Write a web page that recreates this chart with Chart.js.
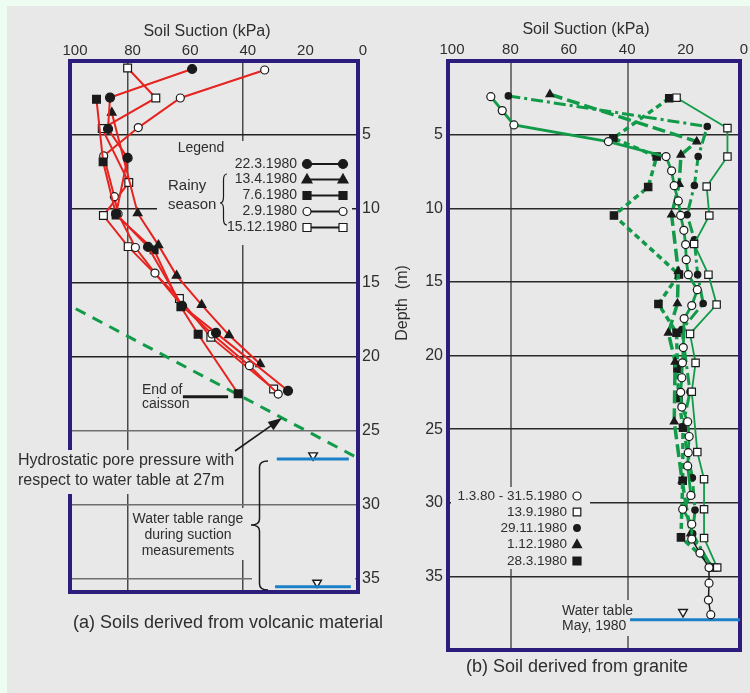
<!DOCTYPE html>
<html><head><meta charset="utf-8">
<script src="https://cdn.jsdelivr.net/npm/chart.js@4.4.1/dist/chart.umd.min.js"></script>
<style>
html,body{margin:0;padding:0;background:#e8e8e8;}
#wrap{position:relative;width:750px;height:693px;background:#eefdf2;overflow:hidden}
#inner{position:absolute;left:7px;top:6px;right:0;bottom:0;background:#e8e8e8}
#c1{position:absolute;left:0;top:0}
#c2{position:absolute;left:390px;top:0}
</style></head>
<body><div id="wrap"><div id="inner"></div>
<canvas id="c1" width="390" height="693"></canvas>
<canvas id="c2" width="360" height="693"></canvas></div>
<script>
// ---------------- DATA ----------------
const suctionTicks = [100, 80, 60, 40, 20, 0];
const suctionGrid = [80, 40];
const depthTicks = [5, 10, 15, 20, 25, 30, 35];

// (a) Soils derived from volcanic material
const seriesA = ['22.3.1980', '13.4.1980', '7.6.1980', '2.9.1980', '15.12.1980'];
const a1Suction = [57.6, 86.1, 86.8, 80.0, 84.0, 72.9, 61.1, 49.3, 24.3];
const a1Depth   = [0.54, 2.47, 4.59, 6.55, 10.34, 12.57, 16.55, 18.38, 22.30];
const a2Suction = [85.5, 76.5, 69.3, 63.0, 54.3, 44.8, 34.0];
const a2Depth   = [3.49, 10.29, 12.45, 14.51, 16.49, 18.53, 20.49];
const a3Suction = [90.8, 88.5, 84.0, 70.8, 61.5, 55.5, 41.6];
const a3Depth   = [2.59, 6.82, 10.41, 12.77, 16.62, 18.47, 22.5];
const a4Suction = [32.4, 61.7, 76.3, 88.3, 84.6, 83.3, 77.3, 70.5, 61.1, 50.7, 37.7, 27.7];
const a4Depth   = [0.61, 2.5, 4.5, 6.42, 9.17, 10.34, 12.61, 14.34, 16.55, 18.45, 20.6, 22.52];
const a5Suction = [80.0, 70.2, 88.8, 79.6, 88.4, 79.8, 62.0, 51.1, 29.3];
const a5Depth   = [0.47, 2.5, 4.57, 8.22, 10.45, 12.55, 16.06, 18.67, 22.18];
const hydroSuction = [98.0, 0];
const hydroDepth   = [16.75, 26.85];
const caissonSuction = [60.8, 45.1];
const caissonDepth   = [22.7, 22.7];
const wtA1Suction = [28.2, 3.2];
const wtA1Depth   = [26.9, 26.9];
const wtA2Suction = [28.8, 2.5];
const wtA2Depth   = [35.54, 35.54];
const wtAMarkSuction = [15.6, 14.2];
const wtAMarkDepth   = [26.66, 35.27];

// (b) Soil derived from granite
const seriesB = ['1.3.80 - 31.5.1980', '13.9.1980', '29.11.1980', '1.12.1980', '28.3.1980'];
const b1Suction = [86.9, 83.0, 79.0, 46.7, 27.0, 25.1, 24.2, 22.8, 22.0, 20.9, 20.3, 20.1, 19.4, 16.3, 18.2, 20.8, 21.1, 21.4, 21.6, 22.0, 21.6, 19.6, 19.1, 19.4, 19.6, 18.5, 21.3, 18.2, 18.2, 15.4, 12.3, 12.3, 12.5, 11.7];
const b1Depth   = [2.42, 3.37, 4.34, 5.47, 6.49, 7.46, 8.47, 9.5, 10.49, 11.5, 12.47, 13.49, 14.51, 15.53, 16.61, 17.49, 19.46, 20.5, 21.51, 22.5, 23.5, 24.5, 25.5, 26.6, 27.5, 29.5, 30.44, 31.46, 32.47, 33.42, 34.4, 35.46, 36.61, 37.6];
const b2Suction = [23.4, 6.0, 6.0, 13.1, 12.2, 17.4, 12.5, 9.7, 18.8, 16.9, 18.2, 16.3, 14.0, 14.0, 14.0, 9.5];
const b2Depth   = [2.49, 4.56, 6.49, 8.52, 10.49, 12.43, 14.51, 16.54, 18.53, 20.5, 22.46, 26.56, 28.4, 30.44, 32.4, 34.4];
const b3Suction = [80.9, 12.9, 16.0, 17.3, 19.8, 17.3, 16.2, 14.3, 21.6, 18.8, 21.3, 18.0, 17.1, 17.9, 11.4];
const b3Depth   = [2.37, 4.45, 6.49, 8.45, 10.44, 12.14, 14.51, 16.47, 18.24, 22.46, 24.84, 28.3, 30.5, 32.1, 34.4];
const b4Suction = [66.7, 16.5, 21.9, 22.5, 25.1, 22.8, 23.1, 26.2, 23.9, 24.2, 21.5, 18.6, 12.0];
const b4Depth   = [2.26, 5.47, 6.37, 8.36, 10.44, 14.28, 16.47, 18.46, 20.43, 24.5, 28.5, 32.1, 34.4];
const b5Suction = [25.9, 45.0, 30.2, 33.1, 44.8, 22.6, 29.6, 23.4, 23.1, 22.7, 21.2, 21.3, 21.9, 10.5];
const b5Depth   = [2.53, 5.24, 6.49, 8.56, 10.49, 14.5, 16.5, 18.46, 20.9, 22.9, 24.9, 28.5, 32.35, 34.4];
const wtBSuction = [39.3, 1.71];
const wtBDepth   = [37.95, 37.95];
const wtBMarkSuction = [21.2];
const wtBMarkDepth   = [37.42];

// ---------------- STYLE ----------------
const FONT = '"Liberation Sans", Arial, "DejaVu Sans", sans-serif';
const BG = '#e8e8e8', FRAME = '#2c1d7c', RED = '#e6231f', GREEN = '#119a48', BLUE = '#1a80c8', INK = '#1a1a1a', TXT = '#2e2e2e';
const b1BlackFrom = 28;
Chart.defaults.font.family = FONT;
Chart.defaults.color = TXT;

const pts = (xs, ys) => xs.map((x, i) => ({x: x, y: ys[i]}));
function ds(label, xs, ys, o) {
  return Object.assign({label: label, data: pts(xs, ys), showLine: true, fill: false, tension: 0,
    borderColor: RED, borderWidth: 2, pointRadius: 4, pointBorderColor: INK, pointBorderWidth: 1.2,
    pointBackgroundColor: INK, pointStyle: 'circle'}, o);
}
function text(c, s, x, y, size, align) {
  c.font = size + 'px ' + FONT; c.fillStyle = TXT; c.textAlign = align || 'left'; c.textBaseline = 'middle';
  c.fillText(s, x, y);
}
function marker(c, style, x, y, r, filled) {
  c.beginPath();
  if (style === 'circle') c.arc(x, y, r, 0, Math.PI * 2);
  else if (style === 'rect') c.rect(x - r, y - r, 2 * r, 2 * r);
  else { c.moveTo(x, y - r * 1.1); c.lineTo(x + r, y + r * 0.7); c.lineTo(x - r, y + r * 0.7); c.closePath(); }
  c.fillStyle = filled ? INK : '#fff'; c.fill();
  c.lineWidth = 1.2; c.strokeStyle = INK; c.stroke();
}
function brace(c, x, y1, y2, ym, d) {
  const m = x - d / 2, q = Math.min(6, (ym - y1) / 3);
  c.beginPath(); c.moveTo(x, y1);
  c.quadraticCurveTo(m, y1, m, y1 + q);
  c.lineTo(m, ym - q);
  c.quadraticCurveTo(m, ym, x - d, ym);
  c.quadraticCurveTo(m, ym, m, ym + q);
  c.lineTo(m, y2 - q);
  c.quadraticCurveTo(m, y2, x, y2);
  c.stroke();
}
function frame(chart) {
  const c = chart.ctx, a = chart.chartArea;
  c.strokeStyle = FRAME; c.lineWidth = 4;
  c.strokeRect(a.left, a.top, a.right - a.left, a.bottom - a.top);
}

// ---------------- CHART A ----------------
const legendA = [['circle', 4.5, true], ['triangle', 5, true], ['rect', 4, true], ['circle', 4, false], ['rect', 4, false]];
const legendAY = [164, 179.5, 195.5, 211.5, 227.5];
const annotA = {
  id: 'annotA',
  beforeDatasetsDraw(chart) {
    const c = chart.ctx; c.save();
    frame(chart);
    c.fillStyle = BG;
    c.fillRect(157, 141, 195, 104);
    c.fillRect(14, 450, 227, 44);
    c.fillRect(130, 508, 118, 52);
    c.fillRect(252, 575, 103, 7);
    text(c, 'Legend', 201, 148, 14, 'center');
    seriesA.forEach((s, i) => {
      const y = legendAY[i];
      text(c, s, 297, y, 14, 'right');
      c.beginPath(); c.moveTo(307, y); c.lineTo(343, y); c.lineWidth = 2; c.strokeStyle = INK; c.stroke();
      marker(c, legendA[i][0], 307, y, legendA[i][1], legendA[i][2]);
      marker(c, legendA[i][0], 343, y, legendA[i][1], legendA[i][2]);
    });
    text(c, 'Rainy', 168, 186, 15);
    text(c, 'season', 168, 205, 15);
    text(c, 'End of', 142, 390, 14);
    text(c, 'caisson', 142, 404, 14);
    text(c, 'Hydrostatic pore pressure with', 18, 461, 16);
    text(c, 'respect to water table at 27m', 18, 481, 16);
    text(c, 'Water table range', 188, 519, 14, 'center');
    text(c, 'during suction', 188, 535, 14, 'center');
    text(c, 'measurements', 188, 551, 14, 'center');
    text(c, 'Soil Suction (kPa)', 207, 32, 16, 'center');
    text(c, '(a) Soils derived from volcanic material', 228, 623, 18, 'center');
    c.restore();
  },
  afterDatasetsDraw(chart) {
    const c = chart.ctx; c.save();
    c.strokeStyle = INK; c.lineWidth = 1.2;
    brace(c, 227, 174, 225, 203, 7);
    c.lineWidth = 1.5;
    brace(c, 268, 461, 590, 525, 17);
    // arrow
    const x0 = 235, y0 = 451, x1 = 282, y1 = 418;
    const ang = Math.atan2(y1 - y0, x1 - x0);
    c.beginPath(); c.moveTo(x0, y0); c.lineTo(x1 - 8 * Math.cos(ang), y1 - 8 * Math.sin(ang));
    c.lineWidth = 1.6; c.stroke();
    c.beginPath(); c.moveTo(x1, y1);
    c.lineTo(x1 - 14 * Math.cos(ang) + 5 * Math.sin(ang), y1 - 14 * Math.sin(ang) - 5 * Math.cos(ang));
    c.lineTo(x1 - 14 * Math.cos(ang) - 5 * Math.sin(ang), y1 - 14 * Math.sin(ang) + 5 * Math.cos(ang));
    c.closePath(); c.fillStyle = INK; c.fill();
    c.restore();
  }
};

new Chart(document.getElementById('c1'), {
  type: 'scatter',
  data: { datasets: [
    ds(seriesA[0], a1Suction, a1Depth, {pointRadius: 4.5}),
    ds(seriesA[1], a2Suction, a2Depth, {pointStyle: 'triangle', pointRadius: 5}),
    ds(seriesA[2], a3Suction, a3Depth, {pointStyle: 'rect', pointRadius: 5.5}),
    ds(seriesA[3], a4Suction, a4Depth, {pointRadius: 4, pointBackgroundColor: '#fff'}),
    ds(seriesA[4], a5Suction, a5Depth, {pointStyle: 'rect', pointRadius: 5.5, pointBackgroundColor: '#fff'}),
    ds('hydrostatic', hydroSuction, hydroDepth, {borderColor: GREEN, borderWidth: 3, borderDash: [11, 8], pointRadius: 0}),
    ds('caisson', caissonSuction, caissonDepth, {borderColor: INK, borderWidth: 3, pointRadius: 0}),
    ds('wt1', wtA1Suction, wtA1Depth, {borderColor: BLUE, borderWidth: 3, pointRadius: 0}),
    ds('wt2', wtA2Suction, wtA2Depth, {borderColor: BLUE, borderWidth: 3, pointRadius: 0}),
    ds('wtmark', wtAMarkSuction, wtAMarkDepth, {showLine: false, pointStyle: 'triangle', rotation: 180, pointRadius: 5, pointBackgroundColor: '#fff', pointBorderWidth: 1.4})
  ]},
  options: {
    responsive: false, animation: false, events: [],
    layout: {padding: {left: 70, right: 0, top: 0, bottom: 101}},
    plugins: {legend: {display: false}, tooltip: {enabled: false}},
    scales: {
      x: {type: 'linear', position: 'top', min: 0, max: 100, reverse: true,
        afterFit: s => { s.height = 61; },
        afterBuildTicks: s => { s.ticks = suctionTicks.map(v => ({value: v})); },
        ticks: {font: {size: 15}, color: TXT, padding: 1, labelOffset: 5, maxRotation: 0, autoSkip: false},
        grid: {drawTicks: false, lineWidth: 1.5, color: c => (c.tick && suctionGrid.includes(c.tick.value)) ? '#4a4a4a' : 'rgba(0,0,0,0)'},
        border: {display: false}},
      y: {type: 'linear', position: 'right', min: 0, max: 35.9, reverse: true,
        afterFit: s => { s.width = 32; },
        afterBuildTicks: s => { s.ticks = depthTicks.map(v => ({value: v})); },
        ticks: {font: {size: 16}, color: TXT, padding: 4},
        grid: {drawTicks: false, lineWidth: 1.4, color: c => (c.tick && c.tick.value <= 20) ? '#222' : '#6e6e6e'},
        border: {display: false}}
    }
  },
  plugins: [annotA]
});

// ---------------- CHART B ----------------
const legendB = [['circle', 4, false], ['rect', 3.8, false], ['circle', 3.3, true], ['triangle', 4.5, true], ['rect', 4, true]];
const legendBY = [496, 512, 528, 544.5, 561];
const annotB = {
  id: 'annotB',
  beforeDatasetsDraw(chart) {
    const c = chart.ctx; c.save();
    frame(chart);
    c.fillStyle = BG;
    c.fillRect(61, 487, 139, 82);
    c.fillRect(168, 600, 79, 36);
    seriesB.forEach((s, i) => {
      const y = legendBY[i];
      text(c, s, 177, y, 13.5, 'right');
      marker(c, legendB[i][0], 187, y, legendB[i][1], legendB[i][2]);
    });
    text(c, 'Water table', 172, 611, 14);
    text(c, 'May, 1980', 172, 626, 14);
    text(c, 'Soil Suction (kPa)', 196, 30, 16, 'center');
    text(c, '(b) Soil derived from granite', 187, 667, 18, 'center');
    c.translate(13, 303); c.rotate(-Math.PI / 2);
    text(c, 'Depth  (m)', 0, 0, 16, 'center');
    c.restore();
  }
};

new Chart(document.getElementById('c2'), {
  type: 'scatter',
  data: { datasets: [
    ds(seriesB[0], b1Suction, b1Depth, {borderColor: GREEN, borderWidth: 2.8, pointRadius: 4, pointBackgroundColor: '#fff',
      segment: {borderColor: c => c.p0DataIndex >= b1BlackFrom ? INK : GREEN, borderWidth: c => c.p0DataIndex >= b1BlackFrom ? 1.5 : 2.8}}),
    ds(seriesB[1], b2Suction, b2Depth, {borderColor: GREEN, borderWidth: 1.8, pointStyle: 'rect', pointRadius: 5.2, pointBackgroundColor: '#fff'}),
    ds(seriesB[2], b3Suction, b3Depth, {borderColor: GREEN, borderWidth: 3, borderDash: [12, 4, 3, 4], pointRadius: 3.2}),
    ds(seriesB[3], b4Suction, b4Depth, {borderColor: GREEN, borderWidth: 3.5, borderDash: [13, 5], pointStyle: 'triangle', pointRadius: 4.5}),
    ds(seriesB[4], b5Suction, b5Depth, {borderColor: GREEN, borderWidth: 3.5, borderDash: [6, 4], pointStyle: 'rect', pointRadius: 5.2}),
    ds('wt', wtBSuction, wtBDepth, {borderColor: BLUE, borderWidth: 3, pointRadius: 0}),
    ds('wtmark', wtBMarkSuction, wtBMarkDepth, {showLine: false, pointStyle: 'triangle', rotation: 180, pointRadius: 5, pointBackgroundColor: '#fff', pointBorderWidth: 1.4})
  ]},
  options: {
    responsive: false, animation: false, events: [],
    layout: {padding: {left: 0, right: 10, top: 0, bottom: 43}},
    plugins: {legend: {display: false}, tooltip: {enabled: false}},
    scales: {
      x: {type: 'linear', position: 'top', min: 1.71, max: 101.54, reverse: true,
        afterFit: s => { s.height = 0; },
        afterBuildTicks: s => { s.ticks = suctionGrid.map(v => ({value: v})); },
        ticks: {display: false},
        grid: {drawTicks: false, lineWidth: 2, color: '#777'},
        border: {display: false}},
      xl: {type: 'linear', position: 'top', min: 0, max: 100, reverse: true,
        afterFit: s => { s.height = 61; },
        afterBuildTicks: s => { s.ticks = suctionTicks.map(v => ({value: v})); },
        ticks: {font: {size: 15}, color: TXT, padding: -6, labelOffset: 4, maxRotation: 0, autoSkip: false},
        grid: {display: false},
        border: {display: false}},
      y: {type: 'linear', position: 'left', min: 0, max: 40, reverse: true,
        afterFit: s => { s.width = 58; },
        afterBuildTicks: s => { s.ticks = depthTicks.map(v => ({value: v})); },
        ticks: {font: {size: 16}, color: TXT, padding: 5},
        grid: {drawTicks: false, lineWidth: 1.4, color: '#2a2a2a'},
        border: {display: false}}
    }
  },
  plugins: [annotB]
});
</script></body></html>
